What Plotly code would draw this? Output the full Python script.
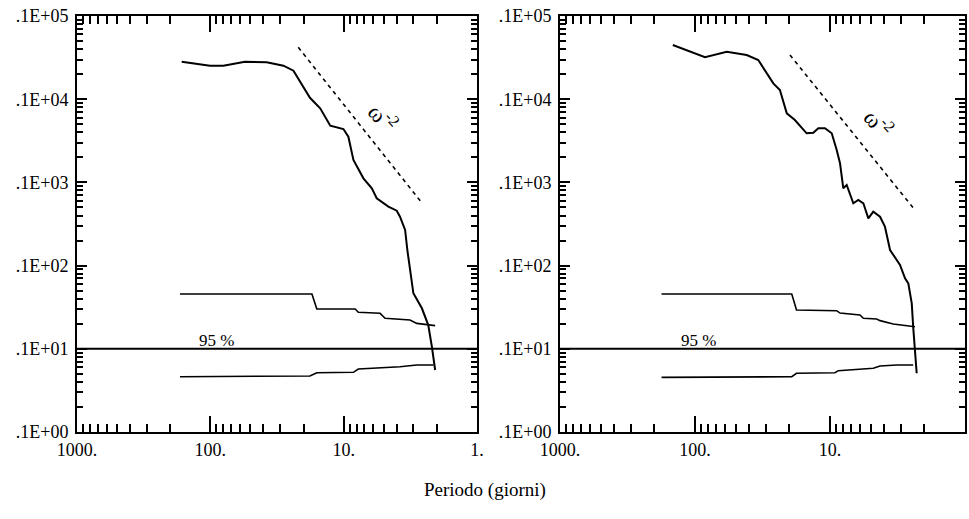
import math
import plotly.graph_objects as go

# ---------------- data (period in days, spectral value) ----------------
# Left panel
L_main_x = [164, 100.5, 79.9, 55, 37.8, 28.3, 23.8, 20.6, 17.9, 15.0, 12.6, 10.05, 9.22, 8.45, 7.11,
            6.15, 5.65, 4.62, 4.00, 3.78, 3.46, 3.33, 3.18, 3.00, 2.59, 2.32, 2.18, 2.12, 2.06]
L_main_y = [28250, 25300, 25300, 28250, 27800, 25300, 22000, 14800, 10400, 7780, 4800, 4380, 3540, 1860, 1120,
            849, 644, 511, 457, 387, 268, 154, 88.5, 46.5, 30.7, 19.3, 10.6, 7.33, 5.56]
L_up_x = [169, 17.3, 15.9, 8.2, 7.76, 5.33, 4.89, 3.18, 2.83, 2.06]
L_up_y = [45.6, 45.6, 30.1, 30.1, 27.5, 26.7, 23.3, 22.2, 20.2, 19.0]
L_lo_x = [169, 17.9, 15.9, 8.45, 7.76, 3.78, 2.83, 2.12]
L_lo_y = [4.62, 4.71, 5.16, 5.22, 5.72, 6.09, 6.38, 6.38]
L_slope_x = [21.9, 2.55]
L_slope_y = [42000, 550]

# Right panel
R_main_x = [146, 84.3, 58.2, 41.4, 34.0, 29.4, 26.3, 23.5, 20.9, 18.2, 14.9, 13.3, 12.2, 10.9, 9.71,
            8.92, 8.43, 7.97, 7.52, 6.72, 6.17, 5.66, 5.20, 4.78, 4.26, 3.92, 3.64, 3.59, 3.03,
            2.78, 2.63, 2.48, 2.42, 2.35, 2.28]
R_main_y = [44800, 31900, 37200, 34000, 29600, 20500, 15500, 12900, 6770, 5620, 3890, 3960, 4470, 4470, 3890,
            2450, 1700, 849, 931, 561, 614, 561, 370, 445, 387, 294, 169, 154, 102,
            70.3, 61.2, 35.2, 18.4, 10.6, 5.08]
R_up_x = [177, 19.2, 17.7, 8.92, 8.43, 6.0, 5.66, 4.51, 4.26, 3.40, 2.35]
R_up_y = [45.6, 45.6, 29.3, 28.7, 26.9, 25.5, 23.3, 22.8, 21.8, 19.9, 18.4]
R_lo_x = [177, 19.2, 17.7, 9.18, 8.68, 4.78, 4.26, 3.21, 2.42]
R_lo_y = [4.54, 4.62, 5.08, 5.16, 5.46, 5.83, 6.21, 6.38, 6.38]
R_slope_x = [19.8, 2.35]
R_slope_y = [34000, 466]

level95 = 10
x_tickvals = [1000, 100, 10, 1]
x_ticktext = ["1000.", "100.", "10.", "1."]
y_tickvals = [1, 10, 100, 1000, 10000, 100000]
y_ticktext = [".1E+00", ".1E+01", ".1E+02", ".1E+03", ".1E+04", ".1E+05"]
x_title = "Periodo (giorni)"
pct_label = "95 %"
slope_label = "ω<sup>-2</sup>"
L_slope_label_pos = (5.06, 6100)
R_slope_label_pos = (4.41, 5180)
L_pct_pos = (90.6, 10)
R_pct_pos = (95, 10)

SERIF = "Liberation Serif, Times New Roman, serif"

fig = go.Figure()

panels = [
    ("x", "y", L_main_x, L_main_y, L_up_x, L_up_y, L_lo_x, L_lo_y, L_slope_x, L_slope_y, L_slope_label_pos, L_pct_pos),
    ("x2", "y2", R_main_x, R_main_y, R_up_x, R_up_y, R_lo_x, R_lo_y, R_slope_x, R_slope_y, R_slope_label_pos, R_pct_pos),
]

for xa, ya, mx, my, ux, uy, lx, ly, sx, sy, slpos, ppos in panels:
    fig.add_trace(go.Scatter(x=mx, y=my, mode="lines", line=dict(color="black", width=2),
                             xaxis=xa, yaxis=ya, showlegend=False))
    fig.add_trace(go.Scatter(x=ux, y=uy, mode="lines", line=dict(color="black", width=1.6),
                             xaxis=xa, yaxis=ya, showlegend=False))
    fig.add_trace(go.Scatter(x=lx, y=ly, mode="lines", line=dict(color="black", width=1.6),
                             xaxis=xa, yaxis=ya, showlegend=False))
    fig.add_trace(go.Scatter(x=sx, y=sy, mode="lines", line=dict(color="black", width=1.6, dash="4px,4px"),
                             xaxis=xa, yaxis=ya, showlegend=False))
    fig.add_trace(go.Scatter(x=[1000, 1], y=[level95, level95], mode="lines",
                             line=dict(color="black", width=2), xaxis=xa, yaxis=ya, showlegend=False))
    # annotation positions on log axes are given in log10 units
    fig.add_annotation(x=math.log10(slpos[0]), y=math.log10(slpos[1]), xref=xa, yref=ya,
                       text=slope_label, showarrow=False, textangle=48,
                       font=dict(family=SERIF, size=23, color="black"), xanchor="center", yanchor="middle")
    fig.add_annotation(x=math.log10(ppos[0]), y=math.log10(ppos[1]), xref=xa, yref=ya,
                       text=pct_label, showarrow=False,
                       font=dict(family=SERIF, size=17, color="black"), xanchor="center", yanchor="bottom",
                       yshift=-3)

xaxis_common = dict(type="log", range=[3, 0], tickvals=x_tickvals, ticktext=x_ticktext,
                    ticks="inside", ticklen=16, tickwidth=1.5, tickcolor="black",
                    minor=dict(ticks="inside", ticklen=8, tickwidth=1.5, tickcolor="black", dtick="D1",
                               showgrid=False),
                    showline=True, linecolor="black", linewidth=2, mirror="ticks",
                    showgrid=False, zeroline=False,
                    tickfont=dict(family=SERIF, size=18, color="black"), automargin=False)
yaxis_common = dict(type="log", range=[0, 5], tickvals=y_tickvals, ticktext=y_ticktext,
                    ticks="inside", ticklen=10, tickwidth=1.5, tickcolor="black",
                    minor=dict(ticks="inside", ticklen=6, tickwidth=1.5, tickcolor="black", dtick="D1",
                               showgrid=False),
                    showline=True, linecolor="black", linewidth=2, mirror="ticks",
                    showgrid=False, zeroline=False, ticklabelstandoff=3,
                    tickfont=dict(family=SERIF, size=18, color="black"), automargin=False)

ydom = [1 - 432 / 519, 1 - 16 / 519]
fig.update_layout(
    width=969, height=519,
    margin=dict(l=0, r=0, t=0, b=0),
    paper_bgcolor="white", plot_bgcolor="white",
    showlegend=False,
    xaxis=dict(domain=[77 / 969, 477 / 969], anchor="y", **xaxis_common),
    yaxis=dict(domain=ydom, anchor="x", **yaxis_common),
    xaxis2=dict(domain=[560 / 969, 965 / 969], anchor="y2", **xaxis_common),
    yaxis2=dict(domain=ydom, anchor="x2", **yaxis_common),
)

fig.add_annotation(x=485 / 969, y=1 - 490 / 519, xref="paper", yref="paper", text=x_title,
                   showarrow=False, font=dict(family=SERIF, size=19, color="black"),
                   xanchor="center", yanchor="middle")

fig.write_html("out.html")
